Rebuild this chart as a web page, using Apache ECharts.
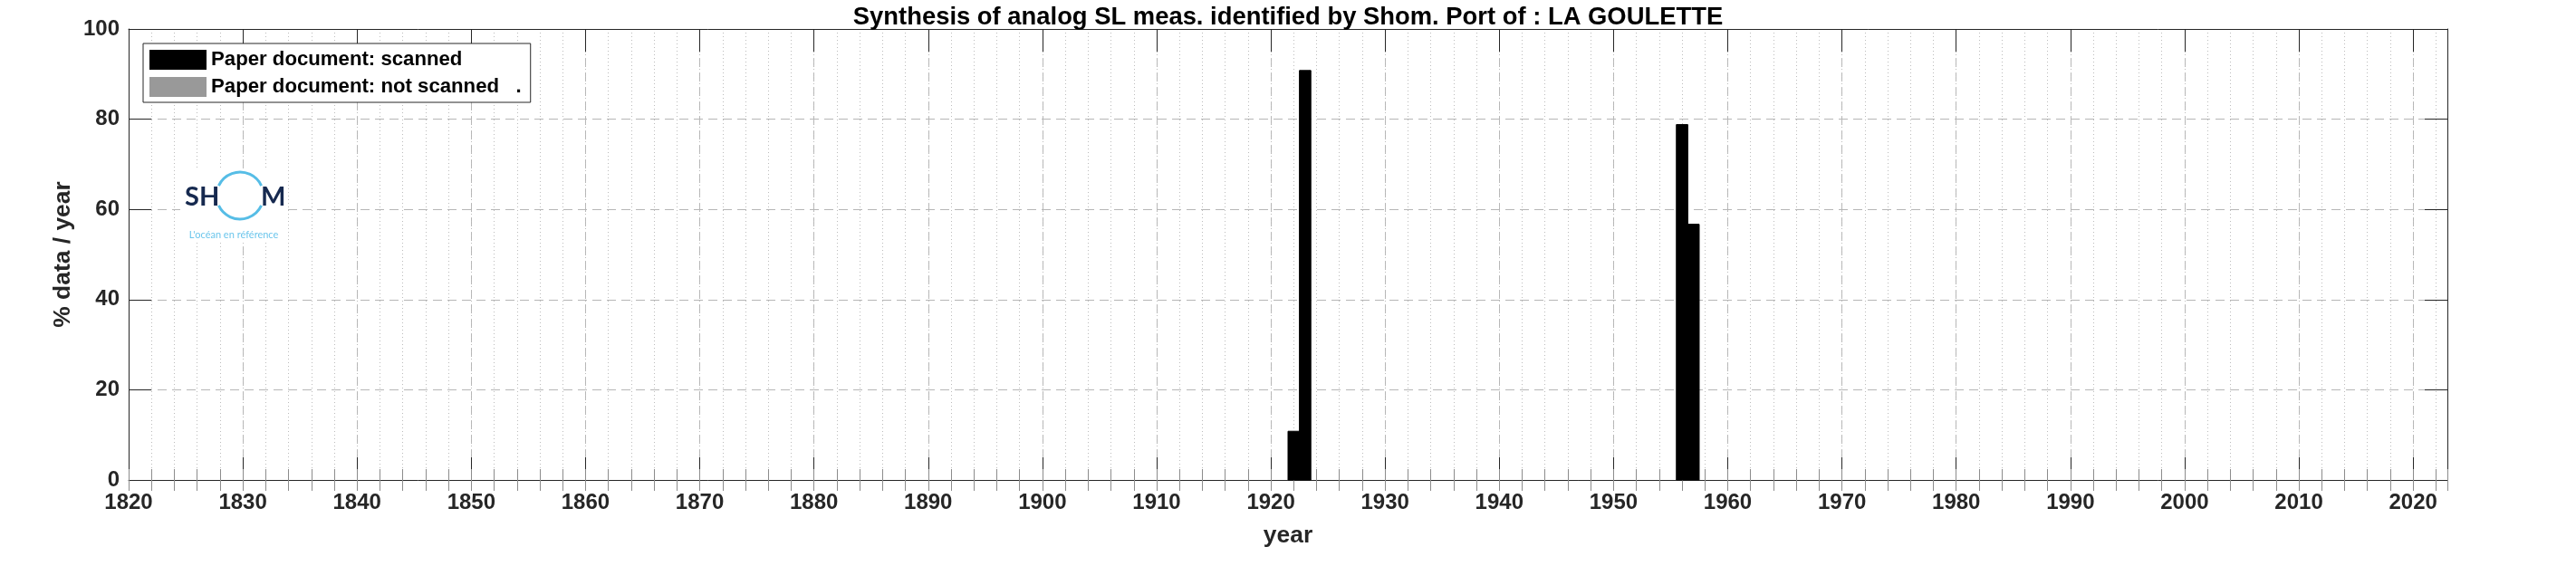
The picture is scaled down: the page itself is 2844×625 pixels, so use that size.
<!DOCTYPE html>
<html>
<head>
<meta charset="utf-8">
<script src="https://cdn.jsdelivr.net/npm/echarts@6/dist/echarts.min.js"></script>
<style>
html,body{margin:0;padding:0;background:#fff;}
#chart{width:2844px;height:625px;}
</style>
</head>
<body>
<div id="chart"></div>
<script>
// ---- data ----
const scannedYears = [1922, 1923, 1956, 1957];
const scannedPct = [10.8, 90.8, 78.8, 56.7];
const notScannedYears = [];
const notScannedPct = [];
const xMin = 1820, xMax = 2023, xMajor = 10, xMinor = 2;
const yTicks = [0, 20, 40, 60, 80, 100];
const titleText = 'Synthesis of analog SL meas. identified by Shom. Port of : LA GOULETTE';
const legendNames = ['Paper document: scanned', 'Paper document: not scanned   .'];

const FONT = "'Liberation Sans', Arial, Helvetica, sans-serif";
const AX = '#262626';

function pairs(xs, ys) { return xs.map((x, i) => [x, ys[i]]); }

function barRenderer(color) {
  return function (params, api) {
    const x = api.value(0), v = api.value(1);
    const a = api.coord([x - 0.5, v]);
    const b = api.coord([x + 0.5, 0]);
    return {
      type: 'rect',
      shape: { x: a[0], y: a[1], width: b[0] - a[0], height: b[1] - a[1] },
      style: { fill: color, stroke: '#000', lineWidth: 1 }
    };
  };
}

const chart = echarts.init(document.getElementById('chart'), null, { renderer: 'canvas' });

const majorSplit = { show: true, showMinLine: false, showMaxLine: false,
  lineStyle: { type: [10, 6], color: '#b6b6b6', width: 1 } };
const minorSplit = { show: true, showMinLine: false, showMaxLine: false,
  lineStyle: { type: [1, 3], color: '#bcbcbc', width: 1 } };

const option = {
  backgroundColor: '#fff',
  animation: false,
  title: {
    text: titleText, left: 'center', top: 1,
    textStyle: { fontFamily: FONT, fontSize: 27.4, fontWeight: 'bold', color: '#000' }
  },
  legend: {
    orient: 'vertical', left: 158, top: 48,
    padding: [7, 10, 6, 7], itemGap: 8, itemWidth: 63, itemHeight: 22,
    backgroundColor: '#fff', borderColor: AX, borderWidth: 1, borderRadius: 0,
    textStyle: { fontFamily: FONT, fontSize: 22.2, fontWeight: 'bold', color: '#000' },
    data: [{ name: legendNames[0], icon: 'rect' }, { name: legendNames[1], icon: 'rect' }],
    selectedMode: false, z: 20
  },
  grid: { left: 142, top: 32, width: 2560, height: 498, containLabel: false, show: false },
  xAxis: [
    {
      type: 'value', min: xMin, max: xMax, interval: xMajor, position: 'bottom',
      axisLine: { show: true, onZero: false, lineStyle: { color: AX, width: 1 } },
      axisTick: { show: true, inside: true, length: 25, lineStyle: { color: AX, width: 1 } },
      axisLabel: { show: true, margin: 13, fontFamily: FONT, fontSize: 24, fontWeight: 'bold', color: AX,
        formatter: v => (v % xMajor === 0 ? String(v) : '') },
      splitLine: majorSplit,
      name: 'year', nameLocation: 'middle', nameGap: 49, nameMoveOverlap: false,
      nameTextStyle: { fontFamily: FONT, fontSize: 26.4, fontWeight: 'bold', color: AX }
    },
    {
      type: 'value', min: xMin, max: xMax, interval: xMinor, position: 'bottom',
      axisLine: { show: false },
      axisTick: { show: true, inside: true, length: 12, lineStyle: { color: '#8c8c8c', width: 1 } },
      axisLabel: { show: false },
      splitLine: minorSplit
    },
    {
      type: 'value', min: xMin, max: xMax, interval: xMajor, position: 'top',
      axisLine: { show: true, onZero: false, lineStyle: { color: AX, width: 1 } },
      axisTick: { show: true, inside: true, length: 25, lineStyle: { color: AX, width: 1 } },
      axisLabel: { show: false }, splitLine: { show: false }
    },
    {
      type: 'value', min: xMin, max: xMax, interval: xMinor, position: 'top',
      axisLine: { show: false },
      axisTick: { show: true, inside: true, length: 12, lineStyle: { color: '#8c8c8c', width: 1 } },
      axisLabel: { show: false }, splitLine: { show: false }
    }
  ],
  yAxis: [
    {
      type: 'value', min: yTicks[0], max: yTicks[yTicks.length - 1], interval: yTicks[1] - yTicks[0], position: 'left',
      axisLine: { show: true, onZero: false, lineStyle: { color: AX, width: 1 } },
      axisTick: { show: true, inside: true, length: 25, lineStyle: { color: AX, width: 1 } },
      axisLabel: { show: true, margin: 10, fontFamily: FONT, fontSize: 24, fontWeight: 'bold', color: AX },
      splitLine: majorSplit,
      name: '% data / year', nameLocation: 'middle', nameGap: 59, nameMoveOverlap: false,
      nameTextStyle: { fontFamily: FONT, fontSize: 26.4, fontWeight: 'bold', color: AX }
    },
    {
      type: 'value', min: yTicks[0], max: yTicks[yTicks.length - 1], interval: yTicks[1] - yTicks[0], position: 'right',
      axisLine: { show: true, onZero: false, lineStyle: { color: AX, width: 1 } },
      axisTick: { show: true, inside: true, length: 25, lineStyle: { color: AX, width: 1 } },
      axisLabel: { show: false }, splitLine: { show: false }
    }
  ],
  series: [
    {
      name: legendNames[0], type: 'custom', xAxisIndex: 0, yAxisIndex: 0,
      itemStyle: { color: '#000' },
      renderItem: barRenderer('#000'),
      encode: { x: 0, y: 1 },
      data: pairs(scannedYears, scannedPct), z: 5
    },
    {
      name: legendNames[1], type: 'custom', xAxisIndex: 0, yAxisIndex: 0,
      itemStyle: { color: '#999999' },
      renderItem: barRenderer('#999999'),
      encode: { x: 0, y: 1 },
      data: pairs(notScannedYears, notScannedPct), z: 5
    }
  ],
  graphic: [
    { type: 'rect', silent: true, z: 50, shape: { x: 199, y: 187, width: 116, height: 80 }, style: { fill: '#fff' } },
    { type: 'text', silent: true, z: 51, style: { text: 'SH', x: 204, y: 218, fill: '#16294f',
        font: "bold 29px Lato, 'Open Sans', sans-serif", align: 'left', verticalAlign: 'middle' } },
    { type: 'text', silent: true, z: 51, style: { text: 'M', x: 288, y: 218, fill: '#16294f',
        font: "bold 29px Lato, 'Open Sans', sans-serif", align: 'left', verticalAlign: 'middle' } },
    { type: 'arc', silent: true, z: 51, shape: { cx: 265, cy: 216, r: 26,
        startAngle: Math.PI * 205 / 180, endAngle: Math.PI * 335 / 180, clockwise: true },
      style: { stroke: '#56bde6', lineWidth: 3, fill: null } },
    { type: 'arc', silent: true, z: 51, shape: { cx: 265, cy: 216, r: 26,
        startAngle: Math.PI * 25 / 180, endAngle: Math.PI * 155 / 180, clockwise: true },
      style: { stroke: '#56bde6', lineWidth: 3, fill: null } },
    { type: 'text', silent: true, z: 51, style: { text: "L'océan en référence", x: 258, y: 259, fill: '#6cc6ec',
        font: "11px Lato, 'Open Sans', sans-serif", align: 'center', verticalAlign: 'middle' } }
  ]
};
chart.setOption(option);
</script>
</body>
</html>
